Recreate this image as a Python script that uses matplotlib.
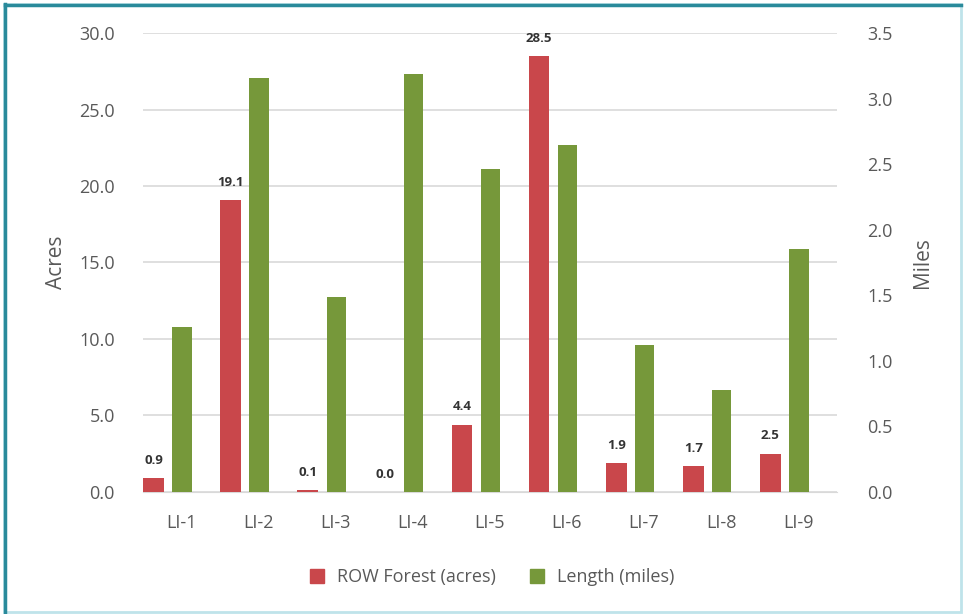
import matplotlib.pyplot as plt
import numpy as np
from matplotlib.patches import Rectangle
from matplotlib.lines import Line2D

categories = ["LI-1", "LI-2", "LI-3", "LI-4", "LI-5", "LI-6", "LI-7", "LI-8", "LI-9"]
forest_acres = [0.9, 19.1, 0.1, 0.0, 4.4, 28.5, 1.9, 1.7, 2.5]
length_miles = [1.26, 3.16, 1.49, 3.19, 2.46, 2.65, 1.12, 0.78, 1.85]

red = "#C9474B"
green = "#76983A"
txt = "#595959"

plt.rcParams["font.family"] = ["Open Sans", "DejaVu Sans"]

fig = plt.figure(figsize=(9.64, 6.14), dpi=100)
ax = fig.add_axes([0.148, 0.199, 0.720, 0.747])
ax2 = ax.twinx()

x = np.arange(len(categories))

# red bars sit left of the category centre, green ones on it
ax.bar(x - 0.36, forest_acres, width=0.27, color=red, zorder=3)
ax2.bar(x + 0.01, length_miles, width=0.25, color=green, zorder=3)

for xi, v in zip(x, forest_acres):
    ax.annotate(f"{v:.1f}", (xi - 0.36, v), xytext=(0, 8), textcoords="offset points",
                ha="center", va="bottom", fontsize=9.5, fontweight="bold", color="#333333")

ax.set_xlim(-0.5, len(categories) - 0.5)
ax.set_ylim(0, 30)
ax2.set_ylim(0, 3.5)
ax.set_yticks(np.arange(0, 30.1, 5))
ax.set_yticklabels([f"{t:.1f}" for t in np.arange(0, 30.1, 5)])
ax2.set_yticks(np.arange(0, 3.51, 0.5))
ax2.set_yticklabels([f"{t:.1f}" for t in np.arange(0, 3.51, 0.5)])
ax.set_xticks(x)
ax.set_xticklabels(categories)

ax.grid(axis="y", color="#D9D9D9", linewidth=1.2, zorder=0)
for a in (ax, ax2):
    for s in a.spines.values():
        s.set_visible(False)
    a.tick_params(length=0, labelsize=13, colors=txt)
ax.spines["bottom"].set_visible(True)
ax.spines["bottom"].set_color("#D9D9D9")
ax.tick_params(axis="y", pad=20)
ax2.tick_params(axis="y", pad=22)
ax.tick_params(axis="x", pad=16)

ax.set_ylabel("Acres", fontsize=15, color=txt, labelpad=9)
ax2.set_ylabel("Miles", fontsize=15, color=txt, rotation=90, labelpad=14)

handles = [Line2D([], [], marker="s", linestyle="", markersize=10, color=red),
           Line2D([], [], marker="s", linestyle="", markersize=10, color=green)]
fig.legend(handles, ["ROW Forest (acres)", "Length (miles)"], loc="center",
           bbox_to_anchor=(0.505, 0.06), ncol=2, frameon=False, fontsize=13,
           labelcolor=txt, handletextpad=0.1, columnspacing=1.3)

# frame around the whole picture
fig.patches.append(Rectangle((0.004, 0.003), 0.993, 0.99, transform=fig.transFigure,
                             fill=False, edgecolor="#BFE3EA", linewidth=2))
fig.add_artist(Line2D([0.005, 0.005], [0.003, 0.993], transform=fig.transFigure,
                      color="#2A8A9B", linewidth=2.5))
fig.add_artist(Line2D([0.005, 0.997], [0.992, 0.992], transform=fig.transFigure,
                      color="#2A8A9B", linewidth=2.5))

fig.savefig("out.png", dpi=100)
